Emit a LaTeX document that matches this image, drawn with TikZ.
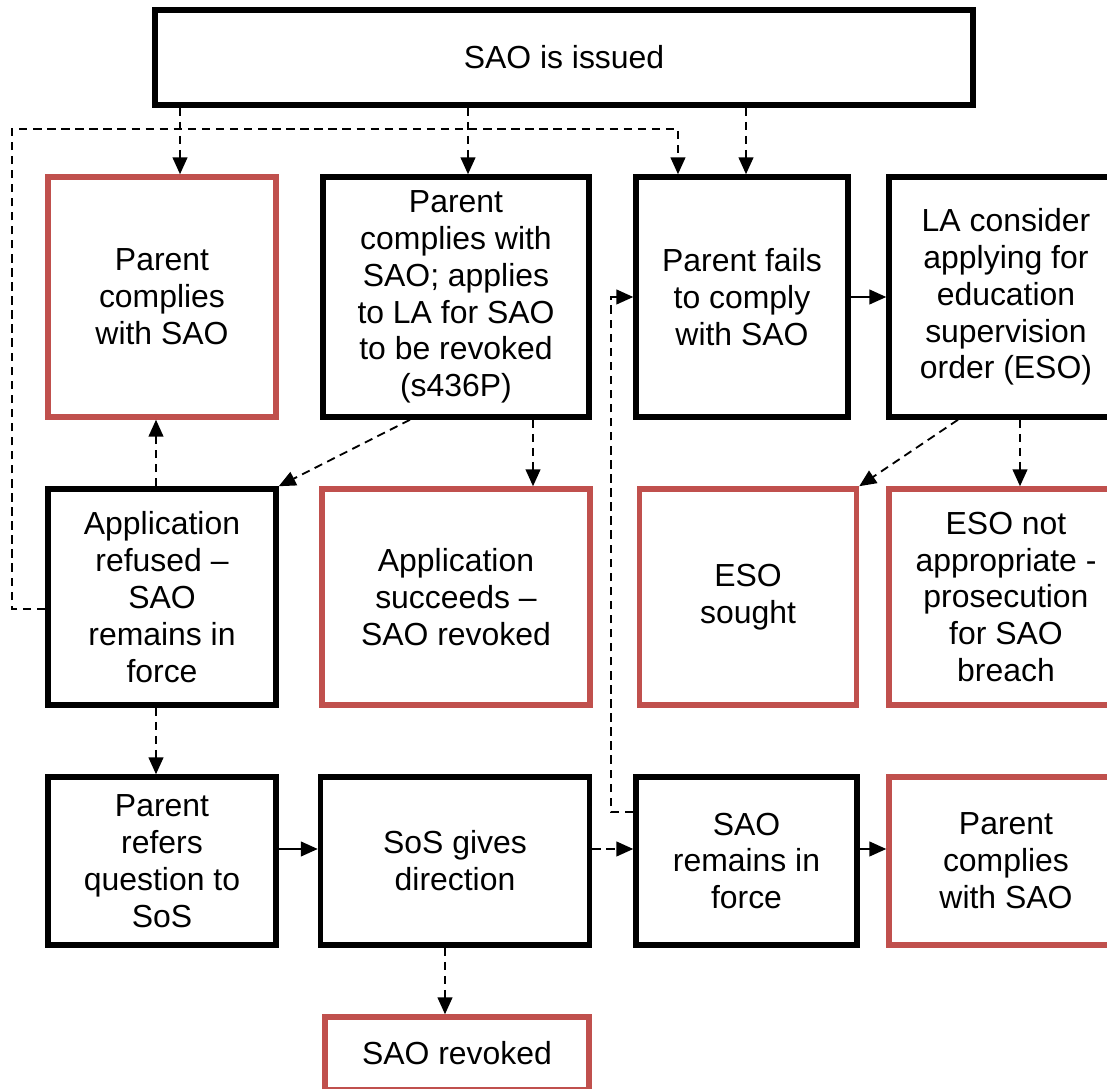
\documentclass[tikz,border=0pt]{standalone}
\usepackage{fontspec}
\setmainfont{Liberation Sans}
\usetikzlibrary{positioning,calc,arrows.meta}
\definecolor{outred}{RGB}{192,80,77}

\begin{document}
\begin{tikzpicture}[x=0.025cm, y=-0.025cm,
box/.style={rectangle, draw=black, line width=3.9pt, align=center, inner sep=0pt, font=\fontsize{22.7}{26.2}\selectfont},
outcome/.style={box, draw=outred},
flow/.style={-{Triangle[length=12pt,width=10.5pt]}, line width=1.3pt, dash pattern=on 6pt off 4pt},
direct/.style={-{Triangle[length=12pt,width=10.5pt]}, line width=1.3pt}
]
\useasboundingbox (0,0) rectangle (1107,1089);
% top of the chart
\node[box, minimum width=20.45cm, minimum height=2.375cm] (sao) at (564,57.5) {SAO is issued};
% first row
\node[outcome, minimum width=5.7cm, minimum height=6cm] (comply) at (162,297) {Parent\\complies\\with SAO};
\node[box, minimum width=6.65cm, minimum height=6cm] (apply) at (456,297) {Parent\\complies with\\SAO; applies\\to LA for SAO\\to be revoked\\(s436P)};
\node[box, minimum width=5.3cm, minimum height=6cm] (fail) at (742,297) {Parent fails\\to comply\\with SAO};
\node[box, minimum width=5.85cm, minimum height=6cm] (eso) at (1006,297) {LA consider\\applying for\\education\\supervision\\order (ESO)};
% second row
\node[box, minimum width=5.7cm, minimum height=5.4cm] (refused) at (162,597) {Application\\refused --\\SAO\\remains in\\force};
\node[outcome, minimum width=6.7cm, minimum height=5.4cm] (succeeds) at (456,597) {Application\\succeeds --\\SAO revoked};
\node[outcome, minimum width=5.425cm, minimum height=5.4cm] (sought) at (748,597) {ESO\\sought};
\node[outcome, minimum width=5.85cm, minimum height=5.4cm] (prosecute) at (1006,597) {ESO not\\appropriate -\\prosecution\\for SAO\\breach};
% third row
\node[box, minimum width=5.7cm, minimum height=4.2cm] (refer) at (162,861) {Parent\\refers\\question to\\SoS};
\node[box, minimum width=6.725cm, minimum height=4.2cm] (sos) at (455,861) {SoS gives\\direction};
\node[box, minimum width=5.525cm, minimum height=4.2cm] (remains) at (746.5,861) {SAO\\remains in\\force};
\node[outcome, minimum width=5.85cm, minimum height=4.2cm] (complies) at (1006,861) {Parent\\complies\\with SAO};
\node[outcome, minimum width=6.6cm, minimum height=1.825cm] (revoked) at (457,1053.5) {SAO revoked};
\coordinate (back) at (12,129);
\coordinate (up) at (611,297);

\draw[flow] ([xshift=0.45cm]sao.south -| comply.north) -- ([xshift=0.45cm]comply.north);
\draw[flow] ([xshift=0.3cm]sao.south -| apply.north) -- ([xshift=0.3cm]apply.north);
\draw[flow] ([xshift=0.1cm]sao.south -| fail.north) -- ([xshift=0.1cm]fail.north);
\draw[flow] ([yshift=-0.3cm]refused.west) -| (back) -| ([xshift=-1.6cm]fail.north);
\draw[flow] ([xshift=-1.15cm]apply.south) -- (refused.north east);
\draw[flow] ([xshift=1.925cm]apply.south) -- ([xshift=1.925cm]succeeds.north);
\draw[flow] ([xshift=-0.15cm]refused.north) -- ([xshift=-0.15cm]comply.south);
\draw[flow] ([xshift=-0.15cm]refused.south) -- ([xshift=-0.15cm]refer.north);
\draw[direct] ([yshift=0.3cm]refer.east) -- ([yshift=0.3cm]sos.west);
\draw[flow] ([yshift=0.3cm]sos.east) -- ([yshift=0.3cm]remains.west);
\draw[direct] ([yshift=0.3cm]remains.east) -- ([yshift=0.3cm]complies.west);
\draw[flow] ([xshift=-0.25cm]sos.south) -- ([xshift=-0.25cm]sos.south |- revoked.north);
\draw[flow] ([yshift=1.225cm]remains.west) -| (up) -- (fail.west);
\draw[direct] (fail.east) -- (eso.west);
\draw[flow] ([xshift=-1.2cm]eso.south) -- (sought.north east);
\draw[flow] ([xshift=0.35cm]eso.south) -- ([xshift=0.35cm]prosecute.north);
\end{tikzpicture}
\end{document}
